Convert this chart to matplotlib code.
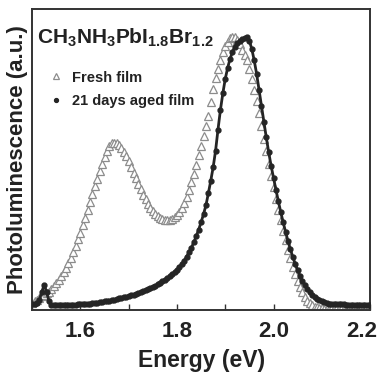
import numpy as np
import matplotlib
matplotlib.use("Agg")
import matplotlib.pyplot as plt
import matplotlib.transforms as mtransforms

plt.rcParams['font.family'] = ['Liberation Sans', 'DejaVu Sans']
plt.rcParams['font.weight'] = 'bold'
plt.rcParams['mathtext.fontset'] = 'custom'
plt.rcParams['mathtext.rm'] = 'Liberation Sans:bold'
plt.rcParams['mathtext.it'] = 'Liberation Sans:bold'
plt.rcParams['mathtext.bf'] = 'Liberation Sans:bold'

# Photon energy grid (eV), 5 meV steps
energy = np.round(np.arange(1.500, 2.2001, 0.005), 3)

# Normalised PL intensity, fresh film
fresh_pl = [
    0.025, 0.030, 0.035, 0.040, 0.046, 0.052, 0.056, 0.062, 0.070, 0.079,
    0.089, 0.100, 0.112, 0.126, 0.141, 0.157, 0.174, 0.193, 0.213, 0.235,
    0.258, 0.282, 0.307, 0.333, 0.360, 0.386, 0.412, 0.437, 0.462, 0.487,
    0.510, 0.530, 0.545, 0.554, 0.557, 0.555, 0.549, 0.539, 0.526, 0.511,
    0.494, 0.476, 0.457, 0.438, 0.419, 0.401, 0.384, 0.368, 0.354, 0.341,
    0.330, 0.321, 0.313, 0.307, 0.303, 0.300, 0.299, 0.300, 0.303, 0.308,
    0.316, 0.326, 0.339, 0.356, 0.376, 0.399, 0.425, 0.453, 0.483, 0.514,
    0.546, 0.579, 0.612, 0.645, 0.690, 0.735, 0.770, 0.800, 0.830, 0.857,
    0.876, 0.892, 0.903, 0.908, 0.906, 0.898, 0.884, 0.866, 0.848, 0.830,
    0.800, 0.768, 0.733, 0.695, 0.655, 0.613, 0.570, 0.528, 0.487, 0.447,
    0.408, 0.370, 0.333, 0.298, 0.264, 0.232, 0.201, 0.172, 0.145, 0.120,
    0.097, 0.077, 0.059, 0.044, 0.032, 0.023, 0.017, 0.012, 0.009, 0.007,
    0.006, 0.005, 0.005, 0.005, 0.005, 0.005, 0.005, 0.005, 0.005, 0.005,
    0.005, 0.005, 0.005, 0.005, 0.005, 0.005, 0.005, 0.005, 0.005, 0.005,
    0.005,
]

# Normalised PL intensity, film aged for 21 days
aged_pl = [
    0.022, 0.022, 0.024, 0.035, 0.060, 0.085, 0.060, 0.030, 0.018, 0.016,
    0.016, 0.016, 0.016, 0.016, 0.017, 0.017, 0.017, 0.018, 0.018, 0.019,
    0.019, 0.020, 0.021, 0.021, 0.022, 0.023, 0.024, 0.025, 0.026, 0.027,
    0.029, 0.030, 0.032, 0.033, 0.035, 0.037, 0.039, 0.041, 0.043, 0.045,
    0.047, 0.050, 0.052, 0.055, 0.058, 0.061, 0.064, 0.067, 0.071, 0.074,
    0.078, 0.082, 0.086, 0.091, 0.096, 0.101, 0.107, 0.113, 0.120, 0.127,
    0.135, 0.144, 0.154, 0.165, 0.178, 0.192, 0.208, 0.226, 0.246, 0.268,
    0.292, 0.319, 0.348, 0.388, 0.430, 0.475, 0.530, 0.600, 0.665, 0.720,
    0.768, 0.805, 0.835, 0.858, 0.875, 0.886, 0.894, 0.900, 0.905, 0.907,
    0.895, 0.868, 0.830, 0.785, 0.732, 0.678, 0.625, 0.574, 0.525, 0.480,
    0.440, 0.400, 0.362, 0.326, 0.292, 0.260, 0.230, 0.202, 0.177, 0.154,
    0.133, 0.114, 0.098, 0.084, 0.072, 0.061, 0.052, 0.044, 0.038, 0.033,
    0.029, 0.026, 0.024, 0.022, 0.021, 0.020, 0.020, 0.019, 0.019, 0.019,
    0.018, 0.018, 0.018, 0.018, 0.018, 0.017, 0.017, 0.017, 0.017, 0.017,
    0.017,
]

x_ticks = [1.6, 1.8, 2.0, 2.2]
x_tick_labels = ["1.6", "1.8", "2.0", "2.2"]
series_labels = ["Fresh film", "21 days aged film"]
sample_label = r"CH$_3$NH$_3$PbI$_{1.8}$Br$_{1.2}$"

fig = plt.figure(figsize=(3.78, 3.82), dpi=100)
ax = fig.add_axes([0.085, 0.188, 0.894, 0.788])

fresh_color = "#8c8c8c"
aged_color = "#252525"

h_fresh, = ax.plot(energy, fresh_pl, linestyle="none", marker="^",
                   markersize=5.2, markerfacecolor="white",
                   markeredgecolor=fresh_color, markeredgewidth=0.9,
                   label=series_labels[0], zorder=2)
ax.plot(energy, aged_pl, color=aged_color, linewidth=2.0, zorder=3)
h_aged, = ax.plot(energy, aged_pl, linestyle="none", marker="o",
                  markersize=3.5, color=aged_color,
                  label=series_labels[1], zorder=4)

ax.set_xlim(1.5, 2.2)
ax.set_ylim(0.0, 1.0)
ax.set_xticks(x_ticks)
ax.set_xticklabels(x_tick_labels)
ax.set_xticks(np.round(np.arange(1.5, 2.21, 0.1), 1), minor=True)
ax.set_yticks([])
ax.tick_params(axis="x", which="both", direction="in", length=4,
               width=1.0, color="#333333", labelsize=16, pad=8,
               labelcolor="#222222")
for s in ax.spines.values():
    s.set_linewidth(1.4)
    s.set_color("#333333")

# keep the last tick label inside the figure edge
last_label = ax.get_xticklabels()[-1]
last_label.set_transform(last_label.get_transform() +
                         mtransforms.ScaledTranslation(-8 / 100, 0,
                                                       fig.dpi_scale_trans))

ax.set_xlabel("Energy (eV)", fontsize=16.5, fontweight="bold",
              color="#222222", labelpad=5)
ax.set_ylabel("Photoluminescence (a.u.)", fontsize=16, fontweight="bold",
              color="#222222", labelpad=3)

ax.text(0.015, 0.885, sample_label, transform=ax.transAxes,
        fontsize=15, fontweight="bold", color="#222222")

leg = ax.legend(handles=[h_fresh, h_aged], loc="upper left",
                bbox_to_anchor=(0.02, 0.83), frameon=False,
                prop={"weight": "bold", "size": 10.5},
                handlelength=1.0, handletextpad=0.6, labelspacing=0.65,
                borderpad=0.2, markerscale=0.8)
for t in leg.get_texts():
    t.set_color("#222222")

fig.savefig("out.png", dpi=100)
